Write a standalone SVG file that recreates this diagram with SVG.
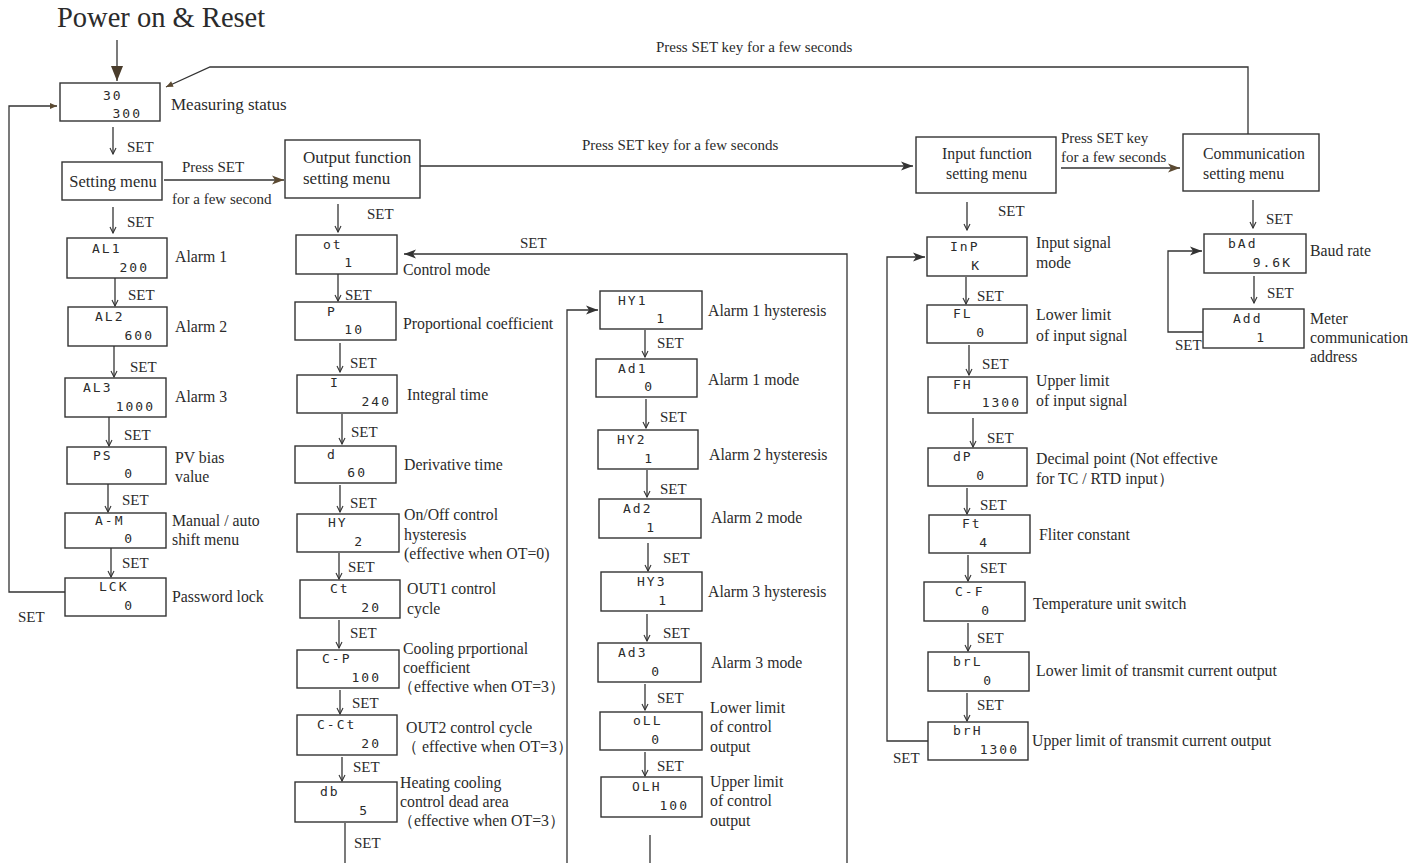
<svg xmlns="http://www.w3.org/2000/svg" width="1425" height="863" viewBox="0 0 1425 863">
<style>
.bg{fill:#fff}
.box{fill:#fff;stroke:#333;stroke-width:1.4}
.ln{fill:none;stroke:#333;stroke-width:1.3}
.lb{font-family:"Liberation Serif","Times New Roman",serif;font-size:15.8px;fill:#2b2b2b}
.st{font-family:"Liberation Serif","Times New Roman",serif;font-size:15px;fill:#2b2b2b}
.sg{font-family:"DejaVu Sans Mono","Liberation Mono",monospace;font-size:13px;fill:#2b2b2b;letter-spacing:2px}
.se{font-family:"DejaVu Sans Mono","Liberation Mono",monospace;font-size:13px;fill:#2b2b2b;letter-spacing:2px;text-anchor:end}
.mn{font-family:"Liberation Serif","Times New Roman",serif;font-size:15.8px;fill:#2b2b2b}
.ti{font-family:"Liberation Serif","Times New Roman",serif;font-size:28.5px;fill:#2b2b2b}
</style>
<defs>
<marker id="v" viewBox="-7 -4 8 8" refX="0" refY="0" markerWidth="8" markerHeight="8" markerUnits="userSpaceOnUse" orient="auto"><path d="M-6,-3 L0,0 L-6,3" fill="none" stroke="#333" stroke-width="1.1"/></marker>
<marker id="f" viewBox="-13 -5 14 10" refX="0" refY="0" markerWidth="14" markerHeight="10" markerUnits="userSpaceOnUse" orient="auto"><path d="M-12,-4.5 L0,0 L-12,4.5 L-9,0 Z" fill="#333"/></marker>
<marker id="b" viewBox="-13 -5 14 10" refX="0" refY="0" markerWidth="14" markerHeight="10" markerUnits="userSpaceOnUse" orient="auto"><path d="M-12,-4.5 L0,0 L-12,4.5 L-9,0 Z" fill="#5b4a32"/></marker>
<marker id="bs" viewBox="-8 -4 9 8" refX="0" refY="0" markerWidth="9" markerHeight="8" markerUnits="userSpaceOnUse" orient="auto"><path d="M-7,-3 L0,0 L-7,3 Z" fill="#5b4a32"/></marker>
<marker id="bt" viewBox="-16 -7 17 14" refX="0" refY="0" markerWidth="17" markerHeight="14" markerUnits="userSpaceOnUse" orient="auto"><path d="M-15,-6 L0,0 L-15,6 Z" fill="#4a3d2c"/></marker>
</defs>
<rect class="bg" x="0" y="0" width="1425" height="863"/>
<text class="ti" x="57" y="27">Power on &amp; Reset</text>

<g id="connectors">
<line class="ln" x1="117" y1="40" x2="117" y2="81" marker-end="url(#bt)"/>
<polyline class="ln" points="1248,134 1248,67 210,67 166,87" marker-end="url(#bs)"/>
<text class="st" x="656" y="52">Press SET key for a few seconds</text>
<polyline class="ln" points="65,592 9,592 9,106 57,106" marker-end="url(#bs)"/>
<text class="st" x="18" y="622">SET</text>
<line class="ln" x1="113" y1="127" x2="113" y2="154" marker-end="url(#v)"/><text class="st" x="127" y="152">SET</text>
<line class="ln" x1="164" y1="180" x2="284" y2="180" marker-end="url(#b)"/>
<text class="st" x="182" y="172">Press SET</text><text class="st" x="172" y="204">for a few second</text>
<line class="ln" x1="113" y1="207" x2="113" y2="233" marker-end="url(#v)"/><text class="st" x="127" y="227">SET</text>
<line class="ln" x1="115" y1="278" x2="115" y2="306" marker-end="url(#v)"/><text class="st" x="128" y="300">SET</text>
<line class="ln" x1="114" y1="346" x2="114" y2="377" marker-end="url(#v)"/><text class="st" x="130" y="372">SET</text>
<line class="ln" x1="109" y1="417" x2="109" y2="446" marker-end="url(#v)"/><text class="st" x="124" y="440">SET</text>
<line class="ln" x1="108" y1="484" x2="108" y2="512" marker-end="url(#v)"/><text class="st" x="122" y="505">SET</text>
<line class="ln" x1="111" y1="548" x2="111" y2="577" marker-end="url(#v)"/><text class="st" x="122" y="568">SET</text>

<line class="ln" x1="338" y1="204" x2="338" y2="232" marker-end="url(#v)"/><text class="st" x="367" y="219">SET</text>
<line class="ln" x1="338" y1="274" x2="338" y2="301" marker-end="url(#v)"/><text class="st" x="345" y="300">SET</text>
<line class="ln" x1="340" y1="343" x2="340" y2="372" marker-end="url(#v)"/><text class="st" x="350" y="368">SET</text>
<line class="ln" x1="342" y1="414" x2="342" y2="444" marker-end="url(#v)"/><text class="st" x="351" y="437">SET</text>
<line class="ln" x1="340" y1="485" x2="340" y2="512" marker-end="url(#v)"/><text class="st" x="350" y="508">SET</text>
<line class="ln" x1="339" y1="553" x2="339" y2="579" marker-end="url(#v)"/><text class="st" x="348" y="572">SET</text>
<line class="ln" x1="339" y1="620" x2="339" y2="648" marker-end="url(#v)"/><text class="st" x="350" y="638">SET</text>
<line class="ln" x1="340" y1="690" x2="340" y2="714" marker-end="url(#v)"/><text class="st" x="352" y="708">SET</text>
<line class="ln" x1="342" y1="757" x2="342" y2="781" marker-end="url(#v)"/><text class="st" x="353" y="772">SET</text>
<line class="ln" x1="345" y1="823" x2="345" y2="863"/><text class="st" x="354" y="848">SET</text>
<polyline class="ln" points="847,863 847,254 404,254" marker-end="url(#f)"/><text class="st" x="520" y="248">SET</text>
<line class="ln" x1="420" y1="166" x2="913" y2="166" marker-end="url(#f)"/>
<text class="st" x="582" y="150">Press SET key for a few seconds</text>

<polyline class="ln" points="567,863 567,310 598,310" marker-end="url(#f)"/>
<line class="ln" x1="645" y1="330" x2="645" y2="357" marker-end="url(#v)"/><text class="st" x="657" y="348">SET</text>
<line class="ln" x1="646" y1="399" x2="646" y2="428" marker-end="url(#v)"/><text class="st" x="660" y="422">SET</text>
<line class="ln" x1="647" y1="470" x2="647" y2="497" marker-end="url(#v)"/><text class="st" x="660" y="494">SET</text>
<line class="ln" x1="648" y1="543" x2="648" y2="571" marker-end="url(#v)"/><text class="st" x="663" y="563">SET</text>
<line class="ln" x1="647" y1="614" x2="647" y2="641" marker-end="url(#v)"/><text class="st" x="663" y="638">SET</text>
<line class="ln" x1="645" y1="684" x2="645" y2="710" marker-end="url(#v)"/><text class="st" x="657" y="703">SET</text>
<line class="ln" x1="645" y1="752" x2="645" y2="776" marker-end="url(#v)"/><text class="st" x="657" y="771">SET</text>
<line class="ln" x1="650" y1="835" x2="650" y2="863"/>

<line class="ln" x1="1061" y1="168" x2="1180" y2="168" marker-end="url(#b)"/>
<text class="st" x="1061" y="143">Press SET key</text><text class="st" x="1061" y="162">for a few seconds</text>
<line class="ln" x1="967" y1="202" x2="967" y2="230" marker-end="url(#v)"/><text class="st" x="998" y="216">SET</text>
<polyline class="ln" points="928,741 887,741 887,257 925,257" marker-end="url(#f)"/><text class="st" x="893" y="763">SET</text>
<line class="ln" x1="966" y1="277" x2="966" y2="304" marker-end="url(#v)"/><text class="st" x="977" y="301">SET</text>
<line class="ln" x1="969" y1="345" x2="969" y2="375" marker-end="url(#v)"/><text class="st" x="982" y="369">SET</text>
<line class="ln" x1="973" y1="418" x2="973" y2="447" marker-end="url(#v)"/><text class="st" x="987" y="443">SET</text>
<line class="ln" x1="967" y1="488" x2="967" y2="514" marker-end="url(#v)"/><text class="st" x="980" y="510">SET</text>
<line class="ln" x1="968" y1="555" x2="968" y2="581" marker-end="url(#v)"/><text class="st" x="980" y="573">SET</text>
<line class="ln" x1="968" y1="623" x2="968" y2="651" marker-end="url(#v)"/><text class="st" x="977" y="643">SET</text>
<line class="ln" x1="967" y1="693" x2="967" y2="721" marker-end="url(#v)"/><text class="st" x="977" y="710">SET</text>

<line class="ln" x1="1253" y1="200" x2="1253" y2="228" marker-end="url(#v)"/><text class="st" x="1266" y="224">SET</text>
<line class="ln" x1="1254" y1="276" x2="1254" y2="303" marker-end="url(#v)"/><text class="st" x="1267" y="298">SET</text>
<polyline class="ln" points="1203,332 1168,332 1168,251 1202,251" marker-end="url(#f)"/><text class="st" x="1175" y="350">SET</text>
</g>

<g id="n-measure"><rect class="box" x="60" y="83" width="100" height="38"/><text class="sg" x="103" y="100">30</text><text class="se" x="142" y="118">300</text><text class="lb" x="171" y="110" style="font-size:17px">Measuring status</text></g>
<g id="n-setting"><rect class="box" x="62" y="162" width="100" height="38"/><text class="mn" x="113" y="187" text-anchor="middle" style="font-size:16.5px">Setting menu</text></g>
<g id="n-al1"><rect class="box" x="67" y="238" width="100" height="40"/><text class="sg" x="92" y="253">AL1</text><text class="se" x="149" y="272">200</text><text class="lb" x="175" y="262">Alarm 1</text></g>
<g id="n-al2"><rect class="box" x="68" y="307" width="99" height="39"/><text class="sg" x="95" y="321">AL2</text><text class="se" x="154" y="340">600</text><text class="lb" x="175" y="332">Alarm 2</text></g>
<g id="n-al3"><rect class="box" x="65" y="378" width="101" height="39"/><text class="sg" x="83" y="392">AL3</text><text class="se" x="155" y="411">1000</text><text class="lb" x="175" y="402">Alarm 3</text></g>
<g id="n-ps"><rect class="box" x="67" y="447" width="99" height="37"/><text class="sg" x="93" y="460">PS</text><text class="se" x="134" y="478">0</text><text class="lb" x="175" y="463">PV bias</text><text class="lb" x="175" y="482">value</text></g>
<g id="n-am"><rect class="box" x="65" y="513" width="101" height="35"/><text class="sg" x="95" y="525">A-M</text><text class="se" x="134" y="543">0</text><text class="lb" x="172" y="526">Manual / auto</text><text class="lb" x="172" y="545">shift menu</text></g>
<g id="n-lck"><rect class="box" x="65" y="578" width="101" height="38"/><text class="sg" x="99" y="591">LCK</text><text class="se" x="134" y="610">0</text><text class="lb" x="172" y="602">Password lock</text></g>

<g id="n-output"><rect class="box" x="285" y="140" width="135" height="58"/><text class="mn" x="303" y="163" style="font-size:17px">Output function</text><text class="mn" x="303" y="184" style="font-size:17px">setting menu</text></g>
<g id="n-ot"><rect class="box" x="296" y="235" width="101" height="39"/><text class="sg" x="323" y="249">ot</text><text class="se" x="354" y="267">1</text><text class="lb" x="403" y="275">Control mode</text></g>
<g id="n-p"><rect class="box" x="295" y="302" width="101" height="38"/><text class="sg" x="327" y="316">P</text><text class="se" x="364" y="334">10</text><text class="lb" x="403" y="329">Proportional coefficient</text></g>
<g id="n-i"><rect class="box" x="297" y="375" width="100" height="38"/><text class="sg" x="330" y="387">I</text><text class="se" x="391" y="406">240</text><text class="lb" x="407" y="400">Integral time</text></g>
<g id="n-d"><rect class="box" x="295" y="446" width="101" height="37"/><text class="sg" x="327" y="459">d</text><text class="se" x="367" y="477">60</text><text class="lb" x="404" y="470">Derivative time</text></g>
<g id="n-hy"><rect class="box" x="297" y="514" width="102" height="38"/><text class="sg" x="328" y="527">HY</text><text class="se" x="364" y="546">2</text><text class="lb" x="404" y="520">On/Off control</text><text class="lb" x="404" y="540">hysteresis</text><text class="lb" x="404" y="559">(effective when OT=0)</text></g>
<g id="n-ct"><rect class="box" x="300" y="580" width="100" height="38"/><text class="sg" x="330" y="593">Ct</text><text class="se" x="381" y="612">20</text><text class="lb" x="407" y="594">OUT1 control</text><text class="lb" x="407" y="614">cycle</text></g>
<g id="n-cp"><rect class="box" x="297" y="650" width="102" height="38"/><text class="sg" x="322" y="663">C-P</text><text class="se" x="381" y="682">100</text><text class="lb" x="403" y="654">Cooling prportional</text><text class="lb" x="403" y="673">coefficient</text><text class="lb" x="398" y="692">（effective when OT=3）</text></g>
<g id="n-cct"><rect class="box" x="297" y="715" width="100" height="40"/><text class="sg" x="317" y="729">C-Ct</text><text class="se" x="381" y="748">20</text><text class="lb" x="406" y="733">OUT2 control cycle</text><text class="lb" x="402" y="752">（ effective when OT=3）</text></g>
<g id="n-db"><rect class="box" x="295" y="782" width="102" height="40"/><text class="sg" x="320" y="796">db</text><text class="se" x="369" y="815">5</text><text class="lb" x="400" y="788">Heating cooling</text><text class="lb" x="400" y="807">control dead area</text><text class="lb" x="398" y="826">（effective when OT=3）</text></g>

<g id="n-hy1"><rect class="box" x="600" y="291" width="102" height="38"/><text class="sg" x="618" y="305">HY1</text><text class="se" x="666" y="323">1</text><text class="lb" x="708" y="316">Alarm 1 hysteresis</text></g>
<g id="n-ad1"><rect class="box" x="596" y="359" width="101" height="38"/><text class="sg" x="618" y="373">Ad1</text><text class="se" x="654" y="391">0</text><text class="lb" x="708" y="385">Alarm 1 mode</text></g>
<g id="n-hy2"><rect class="box" x="598" y="430" width="100" height="39"/><text class="sg" x="617" y="444">HY2</text><text class="se" x="654" y="463">1</text><text class="lb" x="709" y="460">Alarm 2 hysteresis</text></g>
<g id="n-ad2"><rect class="box" x="599" y="499" width="102" height="39"/><text class="sg" x="623" y="513">Ad2</text><text class="se" x="656" y="532">1</text><text class="lb" x="711" y="523">Alarm 2 mode</text></g>
<g id="n-hy3"><rect class="box" x="601" y="572" width="101" height="39"/><text class="sg" x="637" y="586">HY3</text><text class="se" x="668" y="605">1</text><text class="lb" x="708" y="597">Alarm 3 hysteresis</text></g>
<g id="n-ad3"><rect class="box" x="598" y="643" width="103" height="39"/><text class="sg" x="618" y="657">Ad3</text><text class="se" x="661" y="676">0</text><text class="lb" x="711" y="668">Alarm 3 mode</text></g>
<g id="n-oll"><rect class="box" x="600" y="712" width="102" height="38"/><text class="sg" x="633" y="725">oLL</text><text class="se" x="661" y="744">0</text><text class="lb" x="710" y="713">Lower limit</text><text class="lb" x="710" y="732">of control</text><text class="lb" x="710" y="752">output</text></g>
<g id="n-olh"><rect class="box" x="601" y="777" width="101" height="40"/><text class="sg" x="632" y="791">OLH</text><text class="se" x="689" y="810">100</text><text class="lb" x="710" y="787">Upper limit</text><text class="lb" x="710" y="806">of control</text><text class="lb" x="710" y="826">output</text></g>

<g id="n-input"><rect class="box" x="916" y="137" width="140" height="56"/><text class="mn" x="942" y="159">Input function</text><text class="mn" x="946" y="179">setting menu</text></g>
<g id="n-inp"><rect class="box" x="927" y="237" width="100" height="39"/><text class="sg" x="950" y="251">InP</text><text class="se" x="981" y="270">K</text><text class="lb" x="1036" y="248">Input signal</text><text class="lb" x="1036" y="268">mode</text></g>
<g id="n-fl"><rect class="box" x="927" y="305" width="100" height="38"/><text class="sg" x="953" y="318">FL</text><text class="se" x="986" y="337">0</text><text class="lb" x="1036" y="320">Lower limit</text><text class="lb" x="1036" y="341">of input signal</text></g>
<g id="n-fh"><rect class="box" x="928" y="377" width="99" height="36"/><text class="sg" x="953" y="389">FH</text><text class="se" x="1021" y="407">1300</text><text class="lb" x="1036" y="386">Upper limit</text><text class="lb" x="1036" y="406">of input signal</text></g>
<g id="n-dp"><rect class="box" x="928" y="448" width="99" height="38"/><text class="sg" x="953" y="461">dP</text><text class="se" x="986" y="480">0</text><text class="lb" x="1036" y="464">Decimal point (Not effective</text><text class="lb" x="1036" y="484">for TC / RTD input）</text></g>
<g id="n-ft"><rect class="box" x="929" y="515" width="101" height="38"/><text class="sg" x="962" y="528">Ft</text><text class="se" x="989" y="547">4</text><text class="lb" x="1039" y="540">Fliter constant</text></g>
<g id="n-cf"><rect class="box" x="924" y="582" width="101" height="39"/><text class="sg" x="955" y="596">C-F</text><text class="se" x="991" y="615">0</text><text class="lb" x="1033" y="609">Temperature unit switch</text></g>
<g id="n-brl"><rect class="box" x="928" y="652" width="101" height="39"/><text class="sg" x="953" y="666">brL</text><text class="se" x="993" y="685">0</text><text class="lb" x="1036" y="676">Lower limit of transmit current output</text></g>
<g id="n-brh"><rect class="box" x="928" y="722" width="100" height="38"/><text class="sg" x="953" y="735">brH</text><text class="se" x="1019" y="754">1300</text><text class="lb" x="1032" y="746">Upper limit of transmit current output</text></g>

<g id="n-comm"><rect class="box" x="1183" y="134" width="136" height="57"/><text class="mn" x="1203" y="159">Communication</text><text class="mn" x="1203" y="179">setting menu</text></g>
<g id="n-bad"><rect class="box" x="1204" y="234" width="102" height="39"/><text class="sg" x="1228" y="248">bAd</text><text class="se" x="1292" y="267">9.6K</text><text class="lb" x="1310" y="256">Baud rate</text></g>
<g id="n-add"><rect class="box" x="1203" y="309" width="101" height="39"/><text class="sg" x="1233" y="323">Add</text><text class="se" x="1266" y="342">1</text><text class="lb" x="1310" y="324">Meter</text><text class="lb" x="1310" y="343">communication</text><text class="lb" x="1310" y="362">address</text></g>
</svg>
